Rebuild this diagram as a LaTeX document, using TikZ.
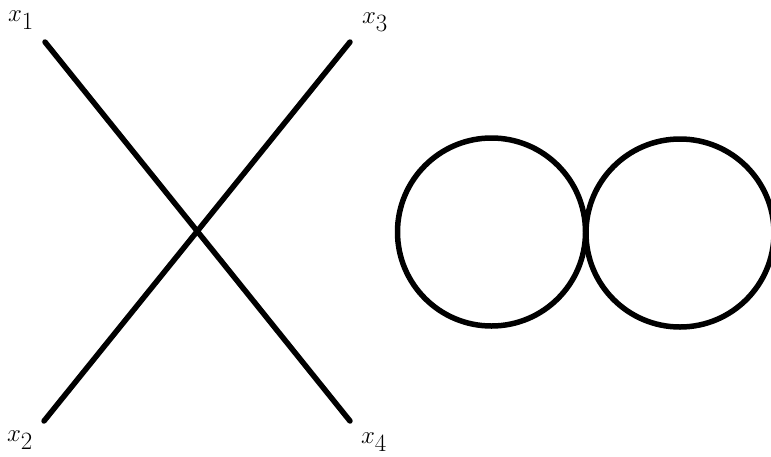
\documentclass[tikz,border=0pt]{standalone}
\begin{document}
\begin{tikzpicture}[x=1pt,y=-1pt,
  stroke/.style={line width=5.5pt,line cap=round,black},
  ring/.style={draw,circle,line width=5.5pt,minimum size=188pt,inner sep=0pt},
  lbl/.style={inner sep=0pt,font=\fontsize{34}{40}\selectfont}]
\useasboundingbox (0,0) rectangle (771,456);
\coordinate (p1) at (45,42);
\coordinate (p4) at (350,421);
\coordinate (p2) at (44,421);
\coordinate (p3) at (350,42);
\draw[stroke] (p1) -- (p4);
\draw[stroke] (p2) -- (p3);
\node[lbl] (l1) at (21,20) {$x_1$};
\node[lbl] (l3) at (375,22) {$x_3$};
\node[lbl] (l2) at (20,440) {$x_2$};
\node[lbl] (l4) at (374,442) {$x_4$};
\node[ring] (c1) at (491.5,232) {};
\node[ring] (c2) at (680,233) {};
\end{tikzpicture}
\end{document}
